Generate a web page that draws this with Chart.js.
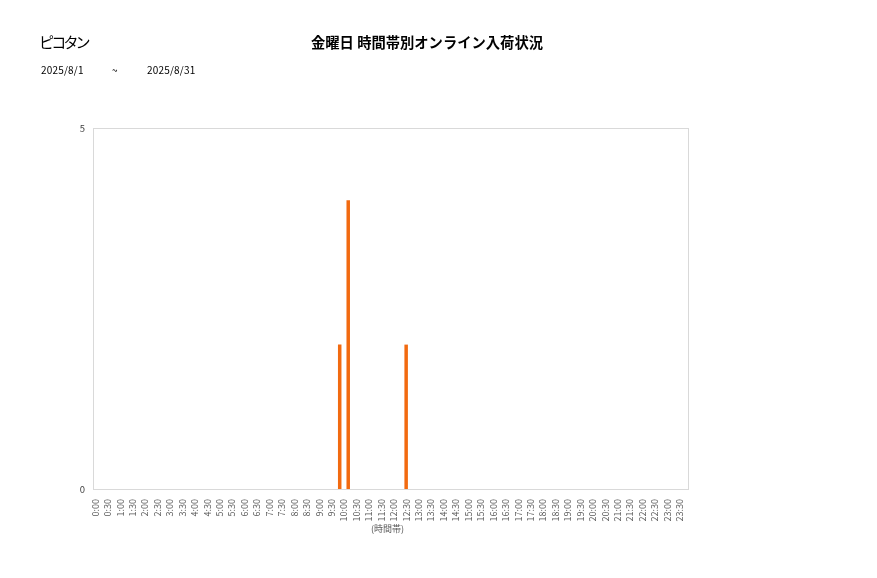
<!DOCTYPE html>
<html>
<head>
<meta charset="utf-8">
<script src="https://cdn.jsdelivr.net/npm/chart.js@4.4.1/dist/chart.umd.min.js"></script>
<style>
  html, body { margin: 0; padding: 0; background: #ffffff; }
  #wrap { position: relative; width: 877px; height: 578px; overflow: hidden; }
  #c { position: absolute; left: 0; top: 0; }
  .t { position: absolute; font-family: "Noto Sans CJK JP", "Noto Sans", sans-serif; color: #000; white-space: nowrap; line-height: 1; }
</style>
</head>
<body>
<div id="wrap">
  <canvas id="c" width="877" height="578"></canvas>
  <div class="t" id="shop" style="left:39px; top:34px; font-size:15px; font-weight:normal; letter-spacing:-2.8px;"></div>
  <div class="t" id="title" style="left:0; width:854px; text-align:center; top:35px; font-size:14.3px; font-weight:bold;"></div>
  <div class="t" id="d1" style="left:41px; top:65px; font-size:10px; letter-spacing:0.2px;"></div>
  <div class="t" id="d2" style="left:112px; top:65px; font-size:10px;"></div>
  <div class="t" id="d3" style="left:147px; top:65px; font-size:10px; letter-spacing:0.2px;"></div>
</div>
<script>
const shopName = 'ピコタン';
const chartTitle = '金曜日 時間帯別オンライン入荷状況';
const dateFrom = '2025/8/1';
const dateSep = '~';
const dateTo = '2025/8/31';
const axisTitle = '(時間帯)';

const timeLabels = ['0:00','0:30','1:00','1:30','2:00','2:30','3:00','3:30','4:00','4:30','5:00','5:30',
  '6:00','6:30','7:00','7:30','8:00','8:30','9:00','9:30','10:00','10:30','11:00','11:30',
  '12:00','12:30','13:00','13:30','14:00','14:30','15:00','15:30','16:00','16:30','17:00','17:30',
  '18:00','18:30','19:00','19:30','20:00','20:30','21:00','21:30','22:00','22:30','23:00','23:30'];

const seriesA = [null,null,null,null,null,null,null,null,null,null,null,null,
  null,null,null,null,null,null,null,null,2,null,null,null,
  null,null,null,null,null,null,null,null,null,null,null,null,
  null,null,null,null,null,null,null,null,null,null,null,null];

const seriesB = [null,null,null,null,null,null,null,null,null,null,null,null,
  null,null,null,null,null,null,null,null,4,null,null,null,
  null,2,null,null,null,null,null,null,null,null,null,null,
  null,null,null,null,null,null,null,null,null,null,null,null];

const yTicks = [0, 5];

document.getElementById('shop').textContent = shopName;
document.getElementById('title').textContent = chartTitle;
document.getElementById('d1').textContent = dateFrom;
document.getElementById('d2').textContent = dateSep;
document.getElementById('d3').textContent = dateTo;

const barColor = '#F26A10';
const tickColor = '#595959';
const fontFam = '"Noto Sans CJK JP", "Noto Sans", sans-serif';

const framePlugin = {
  id: 'frame',
  beforeDatasetsDraw(chart) {
    const a = chart.chartArea;
    const ctx = chart.ctx;
    ctx.save();
    ctx.strokeStyle = '#d9d9d9';
    ctx.lineWidth = 1;
    ctx.strokeRect(Math.round(a.left + 4) + 0.5, Math.round(a.top) + 0.5,
      Math.round(a.right - a.left - 2), Math.round(a.bottom - a.top));
    ctx.restore();
  }
};

new Chart(document.getElementById('c'), {
  type: 'bar',
  data: {
    labels: timeLabels,
    datasets: [
      { data: seriesA, backgroundColor: barColor, borderWidth: 0, skipNull: true,
        categoryPercentage: 1.37, barPercentage: 1, maxBarThickness: 3.5 },
      { data: seriesB, backgroundColor: barColor, borderWidth: 0, skipNull: true,
        categoryPercentage: 1.37, barPercentage: 1, maxBarThickness: 3.5 }
    ]
  },
  options: {
    responsive: false,
    animation: false,
    devicePixelRatio: 1,
    layout: { padding: { left: 59, right: 191, top: 128, bottom: 42 } },
    plugins: { legend: { display: false }, tooltip: { enabled: false }, title: { display: false } },
    scales: {
      x: {
        grid: { display: false },
        border: { display: false },
        afterFit(scale) { scale.height = 47; },
        ticks: {
          autoSkip: false, maxRotation: 90, minRotation: 90, padding: 2,
          color: tickColor, font: { family: fontFam, size: 9 }
        },
        title: {
          display: true, text: axisTitle, color: tickColor,
          font: { family: fontFam, size: 9 }, padding: { top: 0, bottom: 2 }
        }
      },
      y: {
        min: 0, max: 5,
        grid: { display: false },
        border: { display: false },
        afterFit(scale) { scale.width = 30; },
        afterBuildTicks(scale) { scale.ticks = yTicks.map(v => ({ value: v })); },
        ticks: { color: '#404040', padding: -4, font: { family: fontFam, size: 9.5 } }
      }
    }
  },
  plugins: [framePlugin]
});
</script>
</body>
</html>
